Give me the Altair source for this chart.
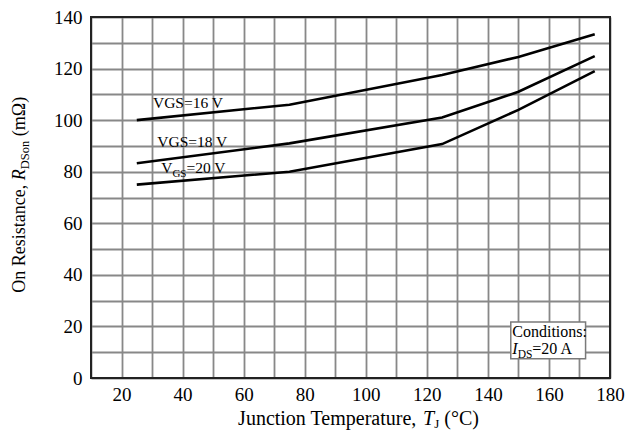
import altair as alt
import pandas as pd

# ---------------- data ----------------
temps = [25, 75, 125, 150, 175]
vgs16 = [100, 106, 117.5, 124.5, 133.3]
vgs18 = [83.3, 91, 101, 111, 124.8]
vgs20 = [75, 80, 90.7, 104, 119]
series_names = ["VGS=16 V", "VGS=18 V", "VGS=20 V"]

x_ticks = list(range(10, 181, 10))
y_ticks = list(range(0, 141, 10))

# annotation anchors (data units)
label_x = [30.3, 31.7, 33.0]
label_y = [104.7, 89.6, 79.5]
box_x = [147.5, 172.0]
box_y = [7.5, 21.7]
cond_x = 148.0
cond_y = [15.9, 9.3]

FONT = "Liberation Serif"
PW, PH = 519, 361

# Times / Liberation Serif advance widths (per 1000 em)
W = {" ": 250, ",": 250, "(": 333, ")": 333, "=": 564, "°": 400, ":": 278,
     "A": 722, "C": 667, "D": 722, "G": 722, "I": 333, "J": 389, "O": 722,
     "R": 667, "S": 556, "T": 611, "V": 722,
     "a": 444, "c": 444, "d": 500, "e": 444, "i": 278, "m": 778, "n": 500,
     "o": 500, "p": 500, "r": 333, "s": 389, "t": 278, "u": 500, "Ω": 768}
WI = {"R": 611, "T": 556, "I": 333, "J": 444}


def text_width(s, size, italic=False):
    tot = 0
    for ch in s:
        if italic and ch in WI:
            tot += WI[ch]
        elif ch.isdigit():
            tot += 500
        else:
            tot += W.get(ch, 500)
    return tot * size / 1000.0


axis_common = dict(title=None, grid=True, gridColor="#888888", gridWidth=1.8,
                   ticks=False, domain=False, labelFont=FONT, labelFontSize=19,
                   labelColor="black", labelOverlap=False, labelFlush=False,
                   labelExpr="datum.value % 20 == 0 ? datum.label : ''")
x_axis = alt.Axis(values=x_ticks, labelPadding=7, **axis_common)
y_axis = alt.Axis(values=y_ticks, labelPadding=9, **axis_common)
xscale = alt.Scale(domain=[10, 180], nice=False, zero=False)
yscale = alt.Scale(domain=[0, 140], nice=False, zero=False)


def xe(field="x"):
    return alt.X(f"{field}:Q", scale=xscale, axis=x_axis, title=None)


def ye(field="y"):
    return alt.Y(f"{field}:Q", scale=yscale, axis=y_axis, title=None)


def rich(segments, x, y, angle=0, data=None):
    """segments: list of (text, size, italic, dy); spaces are turned into offsets."""
    layers = []
    off = 0.0
    src = data if data is not None else pd.DataFrame({"k": [0]})
    for text, size, italic, dy in segments:
        lead = len(text) - len(text.lstrip(" "))
        off += lead * W[" "] * size / 1000.0
        core = text.strip(" ")
        kw = dict(text=core, align="left", baseline="alphabetic", font=FONT,
                  fontSize=size, fontStyle="italic" if italic else "normal",
                  color="black", dx=off, dy=dy)
        if angle:
            kw["angle"] = angle
        layers.append(alt.Chart(src).mark_text(**kw).encode(x=x, y=y))
        off += text_width(text.lstrip(" "), size, italic)
    return layers, off


rows = []
for name, vals in zip(series_names, [vgs16, vgs18, vgs20]):
    for t, v in zip(temps, vals):
        rows.append({"series": name, "x": t, "y": v})
df = pd.DataFrame(rows)

lines = alt.Chart(df).mark_line(color="black", strokeWidth=2.6).encode(
    x=xe(), y=ye(), detail="series:N")

layers = [lines]

# series labels
lab_df = pd.DataFrame({"x": label_x, "y": label_y})
LS = 15.5
for i, name in enumerate(series_names):
    d = lab_df.iloc[[i]]
    if i < 2:
        segs = [(name, LS, False, 0)]
    else:
        segs = [("V", LS, False, 0), ("GS", 11, False, 4), ("=20 V", LS, False, 0)]
    ls, _ = rich(segs, xe(), ye(), data=d)
    layers += ls

# conditions box
box_df = pd.DataFrame({"x": [box_x[0]], "x2": [box_x[1]], "y": [box_y[0]], "y2": [box_y[1]]})
box = alt.Chart(box_df).mark_rect(fill="white", stroke="#7a7a7a", strokeWidth=1.5).encode(
    x=xe(), x2="x2:Q", y=ye(), y2="y2:Q")
layers.append(box)
c1 = pd.DataFrame({"x": [cond_x], "y": [cond_y[0]]})
c2 = pd.DataFrame({"x": [cond_x], "y": [cond_y[1]]})
ls, _ = rich([("Conditions:", 16, False, 0)], xe(), ye(), data=c1)
layers += ls
ls, _ = rich([("I", 16, True, 0), ("DS", 11.5, False, 4), ("=20 A", 16, False, 0)],
             xe(), ye(), data=c2)
layers += ls

# frame
frame = alt.Chart(pd.DataFrame({"k": [0]})).mark_rect(fill=None, stroke="#222222", strokeWidth=2).encode(
    x=alt.value(0), x2=alt.value(PW), y=alt.value(0), y2=alt.value(PH))
layers.append(frame)

# axis titles
TX = 20
xsegs = [("Junction Temperature, ", TX, False, 0), ("T", TX, True, 0),
         ("J", 13, False, 3), (" (°C)", TX, False, 0)]
xw = sum(text_width(t, s, it) for t, s, it, _ in xsegs)
ls, _ = rich(xsegs, alt.value(PW / 2 + 8 - xw / 2), alt.value(408))
layers += ls

TY = 18
ysegs = [("On Resistance, ", TY, False, 0), ("R", TY, True, 0),
         ("DSon", 12.5, False, 4), (" (mΩ)", TY, False, 0)]
yw = sum(text_width(t, s, it) for t, s, it, _ in ysegs)
ls, _ = rich(ysegs, alt.value(-66), alt.value(PH / 2 + yw / 2 - 3), angle=270)
layers += ls

chart = alt.layer(*layers).properties(
    width=PW, height=PH, autosize="none",
    padding={"left": 91, "top": 17, "right": 18, "bottom": 54},
).configure_view(stroke=None)

chart.save("out.html", embed_options={"renderer": "svg", "actions": False})
